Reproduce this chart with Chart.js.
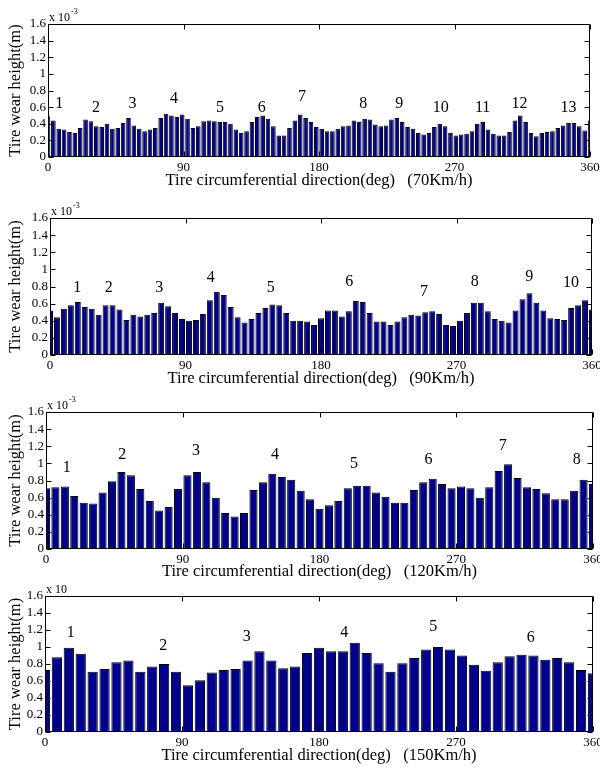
<!DOCTYPE html>
<html>
<head>
<meta charset="utf-8">
<script src="https://cdn.jsdelivr.net/npm/chart.js@4.4.0/dist/chart.umd.min.js"></script>
<style>
  html, body { margin: 0; padding: 0; background: #fff; }
  #wrap { position: relative; width: 600px; height: 769px; overflow: hidden; background: #fff; }
  canvas { position: absolute; left: 0; }
</style>
</head>
<body>
<div id="wrap"></div>
<script>
// tick labels
const xTicks = [0, 90, 180, 270, 360];
const yTicks = [0, 0.2, 0.4, 0.6, 0.8, 1.0, 1.2, 1.4, 1.6];
const yTickLabels = ["0", "0.2", "0.4", "0.6", "0.8", "1", "1.2", "1.4", "1.6"];

// tire wear height (x 10^-3 m), bars evenly spread over 0..360 deg
const wear70 = [
  0.49, 0.44, 0.34, 0.33, 0.30, 0.29, 0.35, 0.45, 0.43, 0.37,
  0.36, 0.40, 0.34, 0.35, 0.41, 0.47, 0.38, 0.34, 0.31, 0.33,
  0.35, 0.47, 0.52, 0.50, 0.48, 0.51, 0.46, 0.35, 0.37, 0.43,
  0.44, 0.43, 0.42, 0.42, 0.40, 0.33, 0.29, 0.31, 0.42, 0.48,
  0.50, 0.46, 0.37, 0.26, 0.26, 0.35, 0.44, 0.51, 0.47, 0.42,
  0.36, 0.34, 0.31, 0.31, 0.34, 0.37, 0.38, 0.44, 0.42, 0.46,
  0.45, 0.39, 0.37, 0.38, 0.45, 0.47, 0.42, 0.36, 0.34, 0.29,
  0.27, 0.29, 0.36, 0.40, 0.37, 0.29, 0.26, 0.27, 0.28, 0.31,
  0.40, 0.42, 0.33, 0.28, 0.26, 0.26, 0.30, 0.44, 0.50, 0.42,
  0.29, 0.25, 0.29, 0.30, 0.31, 0.35, 0.38, 0.41, 0.41, 0.37,
  0.32, 0.44
];
const wear90 = [
  0.52, 0.44, 0.54, 0.58, 0.62, 0.56, 0.54, 0.47, 0.58, 0.58,
  0.53, 0.41, 0.47, 0.45, 0.47, 0.49, 0.61, 0.57, 0.49, 0.42,
  0.40, 0.41, 0.48, 0.64, 0.74, 0.70, 0.56, 0.44, 0.38, 0.42,
  0.49, 0.55, 0.59, 0.58, 0.49, 0.40, 0.40, 0.39, 0.35, 0.43,
  0.52, 0.52, 0.45, 0.51, 0.63, 0.62, 0.49, 0.39, 0.39, 0.35,
  0.39, 0.44, 0.47, 0.46, 0.50, 0.51, 0.48, 0.35, 0.34, 0.40,
  0.49, 0.61, 0.61, 0.51, 0.42, 0.40, 0.38, 0.52, 0.65, 0.72,
  0.61, 0.52, 0.43, 0.42, 0.41, 0.55, 0.58, 0.64, 0.53
];
const wear120 = [
  0.71, 0.72, 0.73, 0.62, 0.54, 0.53, 0.66, 0.79, 0.90, 0.86,
  0.70, 0.56, 0.45, 0.49, 0.70, 0.86, 0.90, 0.78, 0.60, 0.42,
  0.38, 0.42, 0.69, 0.78, 0.88, 0.84, 0.81, 0.68, 0.58, 0.47,
  0.51, 0.56, 0.71, 0.74, 0.74, 0.66, 0.61, 0.54, 0.54, 0.69,
  0.78, 0.82, 0.76, 0.71, 0.73, 0.71, 0.60, 0.72, 0.91, 0.99,
  0.83, 0.72, 0.70, 0.65, 0.58, 0.58, 0.68, 0.81, 0.76
];
const wear150 = [
  0.73, 0.88, 0.99, 0.92, 0.71, 0.74, 0.82, 0.84, 0.71, 0.77,
  0.80, 0.71, 0.55, 0.61, 0.70, 0.73, 0.74, 0.84, 0.95, 0.84,
  0.75, 0.77, 0.93, 0.99, 0.95, 0.95, 1.05, 0.93, 0.81, 0.71,
  0.81, 0.87, 0.97, 1.00, 0.97, 0.90, 0.79, 0.72, 0.82, 0.89,
  0.91, 0.90, 0.85, 0.87, 0.82, 0.73, 0.69
];

// numbered peak labels (deg, height)
const peaks70X = [7.5, 31.9, 56.2, 83.7, 114.2, 141.9, 168.7, 209.4, 233.3, 260.8, 288.7, 313.1, 345.8];
const peaks70Y = [0.64, 0.59, 0.64, 0.70, 0.59, 0.59, 0.72, 0.64, 0.64, 0.59, 0.59, 0.64, 0.59];
const peaks90X = [18.1, 39, 72.6, 106.7, 146.6, 198.8, 248.4, 282.1, 318.3, 346];
const peaks90Y = [0.79, 0.79, 0.79, 0.90, 0.79, 0.86, 0.74, 0.86, 0.91, 0.84];
const peaks120X = [13.6, 50.2, 98.7, 150.7, 202.7, 251.7, 300.6, 349.3];
const peaks120Y = [0.95, 1.10, 1.15, 1.10, 1.00, 1.04, 1.21, 1.04];
const peaks150X = [16.9, 77.7, 132.5, 196.6, 255.1, 319.1];
const peaks150Y = [1.17, 1.01, 1.12, 1.17, 1.24, 1.11];

const speeds = ["(70Km/h)", "(90Km/h)", "(120Km/h)", "(150Km/h)"];

Chart.defaults.font.family = '"Liberation Serif", "Times New Roman", serif';
Chart.defaults.color = "#000";

// MATLAB-like box with inward ticks, peak numbers and the exponent note
const matlabFrame = {
  id: "matlabFrame",
  afterDatasetsDraw(chart, args, opts) {
    const { ctx, chartArea: a, scales: { x, y } } = chart;
    const L = Math.round(a.left) + 0.5, R = Math.round(a.right) - 0.5;
    const T = Math.round(a.top) + 0.5, B = Math.round(a.bottom) - 0.5;
    ctx.save();
    ctx.strokeStyle = "#000";
    ctx.lineWidth = 1;
    ctx.beginPath();
    ctx.rect(L, T, R - L, B - T);
    y.ticks.forEach((t) => {
      const py = Math.round(y.getPixelForValue(t.value)) + 0.5;
      ctx.moveTo(L, py); ctx.lineTo(L + 5, py);
      ctx.moveTo(R, py); ctx.lineTo(R - 5, py);
    });
    x.ticks.forEach((t) => {
      const px = Math.round(x.getPixelForValue(t.value)) + 0.5;
      ctx.moveTo(px, T); ctx.lineTo(px, T + 5);
      ctx.moveTo(px, B); ctx.lineTo(px, B - 5);
    });
    ctx.stroke();

    ctx.fillStyle = "#000";
    ctx.font = '16px "Liberation Serif"';
    ctx.textAlign = "center";
    ctx.textBaseline = "middle";
    opts.peakX.forEach((v, i) => {
      ctx.fillText(String(i + 1), x.getPixelForValue(v), y.getPixelForValue(opts.peakY[i]));
    });

    ctx.textAlign = "left";
    ctx.textBaseline = "alphabetic";
    ctx.font = '12px "Liberation Serif"';
    const base = "x 10";
    ctx.fillText(base, a.left + 1, a.top - 3);
    if (opts.exp) {
      const w = ctx.measureText(base).width;
      ctx.font = '8px "Liberation Serif"';
      ctx.fillText(opts.exp, a.left + 2 + w, a.top - 10);
    }
    ctx.restore();
  }
};

const wrap = document.getElementById("wrap");

function makePanel(values, speed, peakX, peakY, exp, p) {
  const canvas = document.createElement("canvas");
  canvas.width = 620;
  canvas.height = p.h;
  canvas.style.top = p.top + "px";
  wrap.appendChild(canvas);

  const step = 360 / (values.length - 1);
  const points = values.map((v, i) => ({ x: i * step, y: v }));
  const xh = p.top + p.h - p.bottom;
  const titlePad = p.top + p.h - p.titleY - 9.9;

  new Chart(canvas.getContext("2d"), {
    type: "bar",
    data: {
      datasets: [{
        data: points,
        backgroundColor: "#00008b",
        borderColor: "#000",
        borderWidth: 1,
        barPercentage: 0.86,
        categoryPercentage: 1,
        clip: 0
      }]
    },
    options: {
      responsive: false,
      animation: false,
      layout: { padding: { top: p.areaTop - p.top, right: 620 - p.right, left: 0, bottom: 0 } },
      plugins: {
        legend: { display: false },
        tooltip: { enabled: false },
        matlabFrame: { peakX, peakY, exp }
      },
      scales: {
        x: {
          type: "linear",
          min: 0,
          max: 360,
          offset: false,
          grid: { display: false, drawTicks: false },
          border: { display: false },
          afterBuildTicks: (s) => { s.ticks = xTicks.map((v) => ({ value: v })); },
          afterFit: (s) => { s.height = xh; },
          ticks: { padding: 3, font: { size: 13 }, maxRotation: 0, autoSkip: false },
          title: {
            display: true,
            text: "Tire circumferential direction(deg)   " + speed,
            font: { size: 16.5 },
            padding: { top: 0, bottom: titlePad }
          }
        },
        y: {
          min: 0,
          max: 1.6,
          grid: { display: false, drawTicks: false },
          border: { display: false },
          afterBuildTicks: (s) => { s.ticks = yTicks.map((v) => ({ value: v })); },
          afterFit: (s) => { s.width = p.left; },
          ticks: { padding: 2, font: { size: 13 }, autoSkip: false, callback: (v, i) => yTickLabels[i] },
          title: {
            display: true,
            text: "Tire wear height(m)",
            font: { size: 16.5 },
            padding: { top: 6, bottom: 0 }
          }
        }
      }
    },
    plugins: [matlabFrame]
  });
}

makePanel(wear70, speeds[0], peaks70X, peaks70Y, "-3",
  { top: 0, h: 194, areaTop: 24, bottom: 157, left: 48, right: 590, titleY: 181 });
makePanel(wear90, speeds[1], peaks90X, peaks90Y, "-3",
  { top: 194, h: 198, areaTop: 218, bottom: 355, left: 50, right: 592, titleY: 379 });
makePanel(wear120, speeds[2], peaks120X, peaks120Y, "-3",
  { top: 392, h: 191, areaTop: 412, bottom: 549, left: 46, right: 593, titleY: 572 });
makePanel(wear150, speeds[3], peaks150X, peaks150Y, "",
  { top: 583, h: 186, areaTop: 596, bottom: 732, left: 45, right: 593, titleY: 756 });
</script>
</body>
</html>
